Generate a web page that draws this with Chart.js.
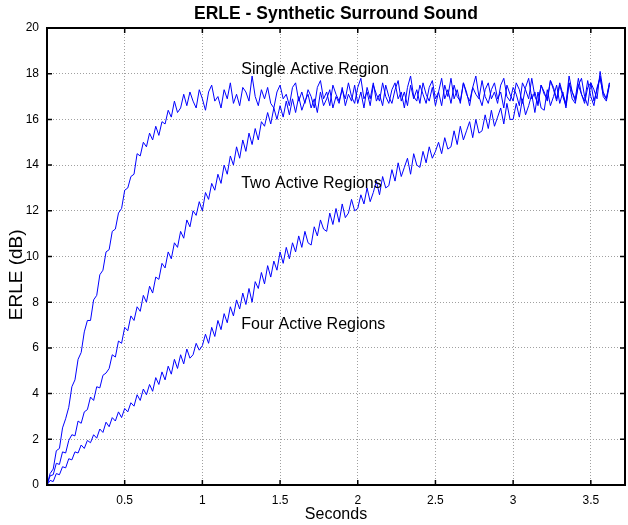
<!DOCTYPE html>
<html>
<head>
<meta charset="utf-8">
<title>ERLE - Synthetic Surround Sound</title>
<script src="https://cdn.jsdelivr.net/npm/chart.js@4/dist/chart.umd.min.js"></script>
<style>
  html, body { margin: 0; padding: 0; background: #fff; }
  #wrap { width: 628px; height: 525px; }
</style>
</head>
<body>
<div id="wrap"><canvas id="erle" width="628" height="525"></canvas></div>
<script>
// sample spacing of the traces, seconds
var sampleStep = 0.02;

// ERLE in dB, every 20 ms
var singleRegion = [
  0.0, 0.5, 0.7, 1.5, 1.6, 2.5, 2.9, 3.4, 4.3, 4.6,
  5.5, 5.8, 6.7, 7.2, 7.2, 8.1, 8.3, 9.2, 9.4, 10.2,
  10.3, 11.1, 11.2, 11.9, 12.1, 12.9, 13.0, 13.5, 13.6, 14.5,
  14.4, 15.0, 14.8, 15.4, 15.1, 15.7, 15.3, 15.9, 15.8, 16.4,
  16.1, 16.8, 16.3, 16.5, 17.1, 16.6, 17.2, 16.8, 16.5, 17.3,
  16.9, 16.4, 17.2, 17.5, 16.8, 17.0, 16.5, 17.3, 16.9, 17.6,
  16.7, 17.1, 16.6, 17.4, 17.2, 16.8, 17.9, 17.0, 16.6, 17.3,
  16.9, 17.4, 16.7, 16.5, 17.2, 17.5, 16.9, 17.1, 16.6, 17.4,
  17.6, 16.8, 17.2, 16.7, 17.3, 17.0, 16.5, 17.4, 17.7, 16.9,
  17.2, 16.6, 17.5, 17.1, 16.8, 17.3, 16.9, 17.6, 17.0, 16.7,
  17.4, 17.8, 16.9, 17.2, 16.6, 17.5, 17.1, 16.8, 17.6, 17.0,
  16.7, 17.3, 17.6, 16.9, 17.2, 16.5, 17.4, 17.9, 17.0, 16.8,
  17.5, 17.1, 16.7, 17.4, 17.7, 16.9, 17.2, 16.6, 17.5, 17.0,
  17.8, 16.9, 17.3, 16.7, 17.6, 17.1, 16.8, 17.4, 17.9, 17.0,
  16.6, 17.3, 17.6, 16.9, 17.2, 16.7, 17.5, 17.8, 17.0, 16.8,
  17.4, 17.1, 16.6, 17.6, 17.3, 16.9, 17.8, 17.0, 16.7, 17.5,
  17.2, 16.8, 17.7, 17.4, 16.9, 17.6, 17.1, 16.7, 17.9, 17.2,
  16.8, 17.5, 17.8, 17.0, 16.6, 17.6, 17.3, 16.9, 18.1, 17.2,
  16.9, 17.6
];

var twoRegions = [
  0.0, 0.4, 0.45, 0.95, 0.9, 1.45, 1.4, 1.95, 2.2, 2.15,
  2.8, 2.7, 3.2, 3.3, 3.85, 3.7, 4.3, 4.25, 4.8, 4.9,
  5.1, 5.7, 5.6, 6.3, 6.2, 6.9, 6.75, 7.4, 7.2, 7.8,
  7.6, 8.3, 8.0, 8.7, 8.4, 9.1, 9.0, 9.7, 9.5, 10.2,
  9.9, 10.6, 10.4, 11.1, 10.8, 11.6, 11.3, 12.0, 11.8, 12.4,
  12.0, 12.8, 12.5, 13.2, 12.9, 13.6, 13.2, 14.0, 13.6, 14.4,
  14.0, 14.8, 14.3, 15.1, 14.6, 15.4, 14.9, 15.6, 15.1, 15.9,
  15.7, 16.3, 15.8, 16.5, 16.0, 16.6, 16.1, 16.8, 16.2, 16.9,
  16.3, 17.0, 16.4, 16.8, 17.1, 16.5, 16.9, 16.3, 17.2, 16.6,
  16.9, 17.3, 16.5, 17.0, 16.7, 17.4, 16.6, 17.1, 16.8, 17.5,
  16.7, 17.2, 16.5, 17.4, 16.9, 17.6, 16.8, 17.1, 16.6, 17.5,
  17.0, 16.7, 17.3, 17.7, 16.8, 17.2, 16.6, 17.5, 16.9, 17.3,
  16.7, 17.6, 17.1, 16.8, 17.4, 16.6, 17.2, 17.8, 16.9, 17.3,
  16.7, 17.5, 17.0, 16.8, 17.6, 17.2, 16.6, 17.4, 17.1, 16.9,
  17.7, 17.0, 16.7, 17.3, 17.6, 16.9, 17.2, 16.5, 17.5, 17.1,
  16.8, 17.6, 17.3, 16.7, 17.4, 17.8, 16.9, 17.2, 16.6, 17.5,
  17.1, 16.9, 17.7, 17.3, 16.8, 17.5, 17.0, 16.6, 17.6, 17.2,
  16.9, 17.8, 17.1, 16.7, 17.4, 17.6, 16.8, 17.3, 17.9, 17.0,
  16.8, 17.5
];

var fourRegions = [
  0.0, 0.2, 0.15, 0.5, 0.45, 0.8, 0.75, 1.15, 1.1, 1.45,
  1.4, 1.75, 1.6, 1.95, 1.85, 2.2, 2.05, 2.45, 2.3, 2.75,
  2.55, 2.95, 2.8, 3.2, 2.95, 3.35, 3.2, 3.6, 3.45, 3.95,
  3.7, 4.2, 3.95, 4.4, 4.1, 4.7, 4.4, 4.95, 4.6, 5.2,
  4.85, 5.5, 5.1, 5.7, 5.3, 5.95, 5.55, 5.7, 6.2, 5.9,
  6.1, 6.6, 6.2, 6.9, 6.5, 7.2, 6.8, 7.5, 7.1, 7.8,
  7.4, 8.1, 7.7, 8.4, 7.9, 8.6, 8.0, 8.9, 8.6, 9.3,
  8.8, 9.6, 9.1, 9.8, 9.4, 10.2, 9.7, 10.4, 9.9, 10.6,
  10.2, 10.9, 10.4, 11.1, 10.6, 10.5, 11.3, 10.9, 11.6, 11.2,
  11.1, 11.9, 11.4, 12.1, 11.5, 12.3, 11.7, 11.9, 12.5, 12.0,
  12.1, 12.7, 12.3, 13.0, 12.4, 12.8, 13.3, 12.7, 13.5, 13.0,
  13.1, 13.8, 13.3, 14.1, 13.5, 13.9, 14.3, 13.6, 14.5, 14.0,
  13.9, 14.6, 14.1, 14.8, 14.3, 14.6, 15.0, 14.5, 15.2, 14.7,
  14.8, 15.5, 14.9, 15.7, 15.1, 15.5, 15.9, 15.2, 16.0, 15.4,
  15.5, 16.2, 15.6, 16.4, 15.7, 16.1, 16.5, 15.8, 16.7, 16.0,
  16.0, 16.7, 16.1, 16.9, 16.2, 16.6, 17.1, 16.3, 17.2, 16.5,
  16.4, 17.3, 16.6, 17.0, 17.5, 16.7, 17.2, 16.5, 17.6, 16.9,
  16.7, 17.5, 17.1, 16.8, 17.7, 17.0, 16.6, 17.4, 17.8, 17.1,
  16.9, 17.6
];

var xTicks = [0, 0.5, 1, 1.5, 2, 2.5, 3, 3.5];
var yTicks = [0, 2, 4, 6, 8, 10, 12, 14, 16, 18, 20];

// text placed inside the axes (seconds, dB)
var noteText = ["Single Active Region", "Two Active Regions", "Four Active Regions"];
var noteSec = [1.25, 1.25, 1.25];
var noteDb = [18.2, 13.2, 7.0];

var FONT = '"Liberation Sans", Arial, Helvetica, sans-serif';

function toPoints(values) {
  return values.map(function (v, i) { return { x: i * sampleStep, y: v }; });
}

function traceSet(values) {
  return {
    data: toPoints(values),
    borderColor: "#0000ff",
    borderWidth: 1,
    pointRadius: 0,
    tension: 0,
    fill: false
  };
}

function fixedTicks(list) {
  return function (scale) {
    scale.ticks = list.map(function (v) { return { value: v }; });
  };
}

// box, inward ticks, y label and the in-axes text (matlab style)
var axesBox = {
  id: "axesBox",
  afterDraw: function (chart) {
    var ctx = chart.ctx;
    var a = chart.chartArea;
    var xs = chart.scales.x;
    var ys = chart.scales.y;
    ctx.save();

    ctx.font = "16px " + FONT;
    ctx.fillStyle = "#000";
    ctx.textAlign = "left";
    ctx.textBaseline = "middle";
    for (var i = 0; i < noteText.length; i++) {
      ctx.fillText(noteText[i], xs.getPixelForValue(noteSec[i]), ys.getPixelForValue(noteDb[i]));
    }

    ctx.save();
    ctx.translate(17, ys.getPixelForValue(9.2));
    ctx.rotate(-Math.PI / 2);
    ctx.textAlign = "center";
    ctx.font = "19px " + FONT;
    ctx.fillText("ERLE (dB)", 0, 0);
    ctx.restore();

    ctx.strokeStyle = "#000";
    ctx.lineWidth = 1.5;
    ctx.beginPath();
    xs.ticks.forEach(function (t) {
      var px = xs.getPixelForValue(t.value);
      ctx.moveTo(px, a.bottom); ctx.lineTo(px, a.bottom - 5);
      ctx.moveTo(px, a.top); ctx.lineTo(px, a.top + 5);
    });
    ys.ticks.forEach(function (t) {
      var py = ys.getPixelForValue(t.value);
      ctx.moveTo(a.left, py); ctx.lineTo(a.left + 5, py);
      ctx.moveTo(a.right, py); ctx.lineTo(a.right - 5, py);
    });
    ctx.stroke();
    ctx.lineWidth = 2;
    ctx.strokeRect(a.left, a.top, a.right - a.left, a.bottom - a.top);
    ctx.restore();
  }
};

new Chart(document.getElementById("erle"), {
  type: "line",
  data: {
    datasets: [traceSet(singleRegion), traceSet(twoRegions), traceSet(fourRegions)]
  },
  options: {
    responsive: false,
    animation: false,
    layout: { padding: { left: 0, right: 3, top: 0, bottom: 0 } },
    plugins: {
      legend: { display: false },
      tooltip: { enabled: false },
      title: {
        display: true,
        text: "ERLE - Synthetic Surround Sound",
        fullSize: false,
        color: "#000",
        font: { family: FONT, size: 17.5, weight: "bold" },
        padding: { top: 3.5, bottom: 3.5 }
      }
    },
    scales: {
      x: {
        type: "linear",
        min: 0,
        max: 3.72,
        afterBuildTicks: fixedTicks(xTicks),
        afterFit: function (scale) { scale.height = 40; },
        border: { display: false, dash: [1, 2] },
        grid: { color: "#a0a0a0", drawTicks: false, lineWidth: 1 },
        ticks: {
          padding: 8,
          color: "#000",
          font: { family: FONT, size: 12 },
          callback: function (v) { return v === 0 ? "" : v; }
        },
        title: {
          display: true,
          text: "Seconds",
          color: "#000",
          font: { family: FONT, size: 16 },
          padding: { top: 0, bottom: 1 }
        }
      },
      y: {
        min: 0,
        max: 20,
        afterBuildTicks: fixedTicks(yTicks),
        afterFit: function (scale) { scale.width = 47; },
        border: { display: false, dash: [1, 2] },
        grid: { color: "#a0a0a0", drawTicks: false, lineWidth: 1 },
        ticks: {
          padding: 8,
          color: "#000",
          font: { family: FONT, size: 12 }
        }
      }
    }
  },
  plugins: [axesBox]
});
</script>
</body>
</html>
